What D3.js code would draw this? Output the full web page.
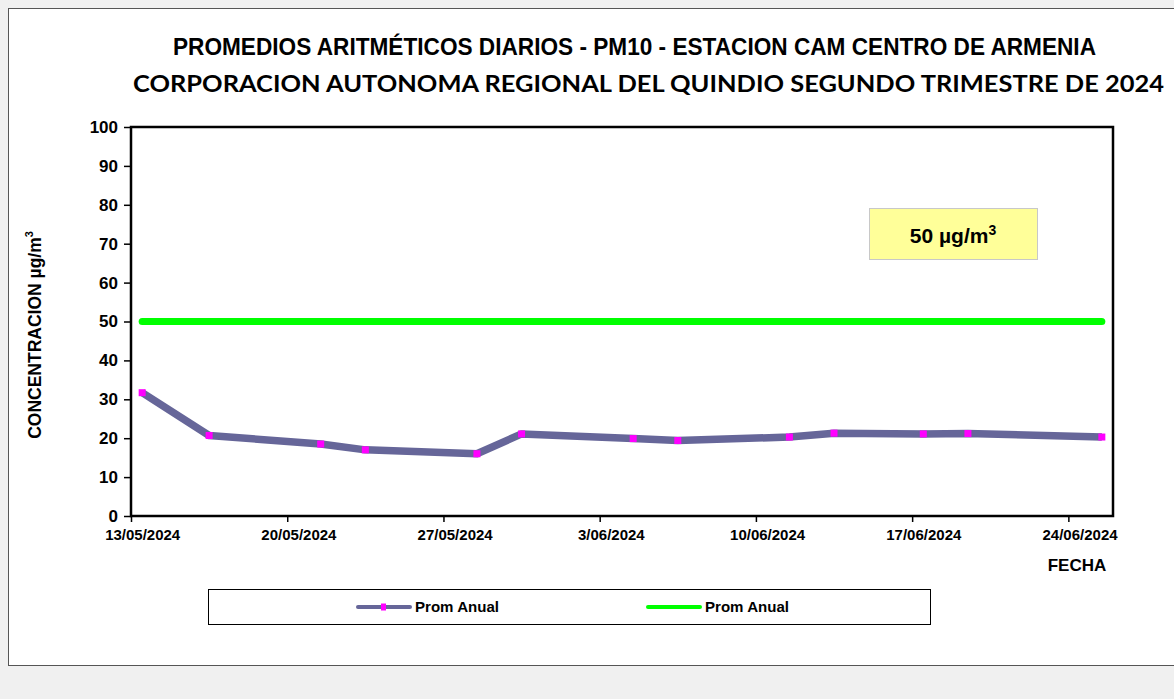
<!DOCTYPE html>
<html>
<head>
<meta charset="utf-8">
<script src="https://cdn.jsdelivr.net/npm/d3@7"></script>
<style>
  body { margin: 0; background: #f0f0f0; }
  svg { display: block; }
</style>
</head>
<body>
<svg id="chart" width="1174" height="699"></svg>
<script>
// datos
var fechas = ['13/05/2024', '16/05/2024', '21/05/2024', '23/05/2024', '28/05/2024', '30/05/2024',
  '04/06/2024', '06/06/2024', '11/06/2024', '13/06/2024', '17/06/2024', '19/06/2024', '25/06/2024'];
var promedios = [31.7, 20.7, 18.5, 17.0, 16.0, 21.1, 19.9, 19.4, 20.3, 21.3, 21.1, 21.2, 20.3];
var limite = 50;
var yTicks = [0, 10, 20, 30, 40, 50, 60, 70, 80, 90, 100];
var xTickFechas = ['13/05/2024', '20/05/2024', '27/05/2024', '03/06/2024', '10/06/2024', '17/06/2024', '24/06/2024'];
var titulo1 = 'PROMEDIOS ARITMÉTICOS DIARIOS - PM10 -  ESTACION CAM CENTRO DE ARMENIA';
var titulo2 = 'CORPORACION AUTONOMA REGIONAL DEL QUINDIO SEGUNDO TRIMESTRE DE 2024';
var leyenda = ['Prom Anual', 'Prom Anual'];

var parse = d3.timeParse('%d/%m/%Y');
var fmt = function (d) { return d.getDate() + '/' + d3.timeFormat('%m/%Y')(d); };

var svg = d3.select('#chart');

// fondo del grafico
svg.append('rect')
  .attr('x', 8.5).attr('y', 8.5).attr('width', 1170).attr('height', 657)
  .attr('fill', '#fff').attr('stroke', '#555').attr('stroke-width', 1);

var pLeft = 131, pTop = 127, pRight = 1113, pBottom = 516;

var x = d3.scaleTime()
  .domain([parse('13/05/2024'), parse('26/06/2024')])
  .range([pLeft, pRight]);
var y = d3.scaleLinear().domain([0, 100]).range([pBottom, pTop]);

// punto en el centro del dia
var xc = function (d) { return x(d3.timeHour.offset(parse(d), 12)); };
var medioDia = x(parse('14/05/2024')) - x(parse('13/05/2024'));

// titulos
svg.append('text')
  .attr('x', 173).attr('y', 55)
  .attr('textLength', 923).attr('lengthAdjust', 'spacingAndGlyphs')
  .style('font', 'bold 23px "Liberation Sans Narrow", "Arial Narrow", "Liberation Sans", sans-serif')
  .text(titulo1);
svg.append('text')
  .attr('x', 133).attr('y', 92)
  .attr('textLength', 1031).attr('lengthAdjust', 'spacingAndGlyphs')
  .style('font', 'bold 23px Lato, "Open Sans", sans-serif')
  .text(titulo2);

// ejes
var yAxis = svg.append('g')
  .attr('transform', 'translate(' + pLeft + ',0)')
  .call(d3.axisLeft(y).tickValues(yTicks).tickSize(7).tickPadding(6));
yAxis.select('.domain').remove();
yAxis.selectAll('line').attr('stroke', '#000').attr('stroke-width', 1.5);
yAxis.selectAll('text')
  .style('font', 'bold 17px "Liberation Sans", Arial, sans-serif').attr('fill', '#000');

var xAxis = svg.append('g')
  .attr('transform', 'translate(0,' + pBottom + ')')
  .call(d3.axisBottom(x).tickValues(xTickFechas.map(parse)).tickFormat(fmt).tickSize(6).tickPadding(7));
xAxis.select('.domain').remove();
xAxis.selectAll('line').attr('stroke', '#000').attr('stroke-width', 1.5);
xAxis.selectAll('text')
  .attr('x', medioDia / 2)
  .style('font', 'bold 15px "Liberation Sans", Arial, sans-serif').attr('fill', '#000');

// borde del area de trazado
svg.append('rect')
  .attr('x', pLeft).attr('y', pTop).attr('width', pRight - pLeft).attr('height', pBottom - pTop)
  .attr('fill', 'none').attr('stroke', '#000').attr('stroke-width', 2.5);

// linea limite
svg.append('line')
  .attr('x1', xc(fechas[0])).attr('x2', xc(fechas[fechas.length - 1]))
  .attr('y1', y(limite)).attr('y2', y(limite))
  .attr('stroke', '#00ff00').attr('stroke-width', 7).attr('stroke-linecap', 'round');

// serie
var linea = d3.line()
  .x(function (d, i) { return xc(fechas[i]); })
  .y(function (d) { return y(d); });
svg.append('path')
  .datum(promedios)
  .attr('d', linea)
  .attr('fill', 'none').attr('stroke', '#666699').attr('stroke-width', 7.5)
  .attr('stroke-linejoin', 'round');
svg.selectAll('rect.marca').data(promedios).enter().append('rect')
  .attr('class', 'marca')
  .attr('x', function (d, i) { return xc(fechas[i]) - 3.5; })
  .attr('y', function (d) { return y(d) - 3.5; })
  .attr('width', 7).attr('height', 7)
  .attr('fill', '#ff00ff');

// recuadro 50 ug/m3
svg.append('rect')
  .attr('x', 869.5).attr('y', 208.5).attr('width', 168).attr('height', 51)
  .attr('fill', '#ffff99').attr('stroke', '#c8c8c8');
var lab = svg.append('text')
  .attr('x', 953).attr('y', 243).attr('text-anchor', 'middle')
  .style('font', 'bold 21px "Liberation Sans", Arial, sans-serif');
lab.append('tspan').text(limite + ' µg/m');
lab.append('tspan').attr('dy', -8).style('font-size', '14px').text('3');

// titulos de ejes
var yl = svg.append('text')
  .attr('transform', 'translate(41,335) rotate(-90)')
  .attr('text-anchor', 'middle')
  .style('font', 'bold 17.5px "Liberation Sans", Arial, sans-serif');
yl.append('tspan').text('CONCENTRACION  µg/m');
yl.append('tspan').attr('dy', -8).style('font-size', '11px').text('3');

svg.append('text')
  .attr('x', 1077).attr('y', 571).attr('text-anchor', 'middle')
  .style('font', 'bold 17px "Liberation Sans", Arial, sans-serif')
  .text('FECHA');

// leyenda
svg.append('rect')
  .attr('x', 208.5).attr('y', 589.5).attr('width', 722).attr('height', 35)
  .attr('fill', '#fff').attr('stroke', '#000');
var ly = 607;
svg.append('line').attr('x1', 358).attr('x2', 410).attr('y1', ly).attr('y2', ly)
  .attr('stroke', '#666699').attr('stroke-width', 4).attr('stroke-linecap', 'round');
svg.append('rect').attr('x', 381).attr('y', ly - 3.5).attr('width', 5).attr('height', 7).attr('fill', '#ff00ff');
svg.append('line').attr('x1', 648).attr('x2', 700).attr('y1', ly).attr('y2', ly)
  .attr('stroke', '#00ff00').attr('stroke-width', 4).attr('stroke-linecap', 'round');
svg.selectAll('text.ley').data(leyenda).enter().append('text')
  .attr('class', 'ley')
  .attr('x', function (d, i) { return i === 0 ? 415 : 705; })
  .attr('y', ly + 5)
  .attr('textLength', 84).attr('lengthAdjust', 'spacingAndGlyphs')
  .style('font', 'bold 15px "Liberation Sans Narrow", "Arial Narrow", "Liberation Sans", sans-serif')
  .text(function (d) { return d; });
</script>
</body>
</html>
